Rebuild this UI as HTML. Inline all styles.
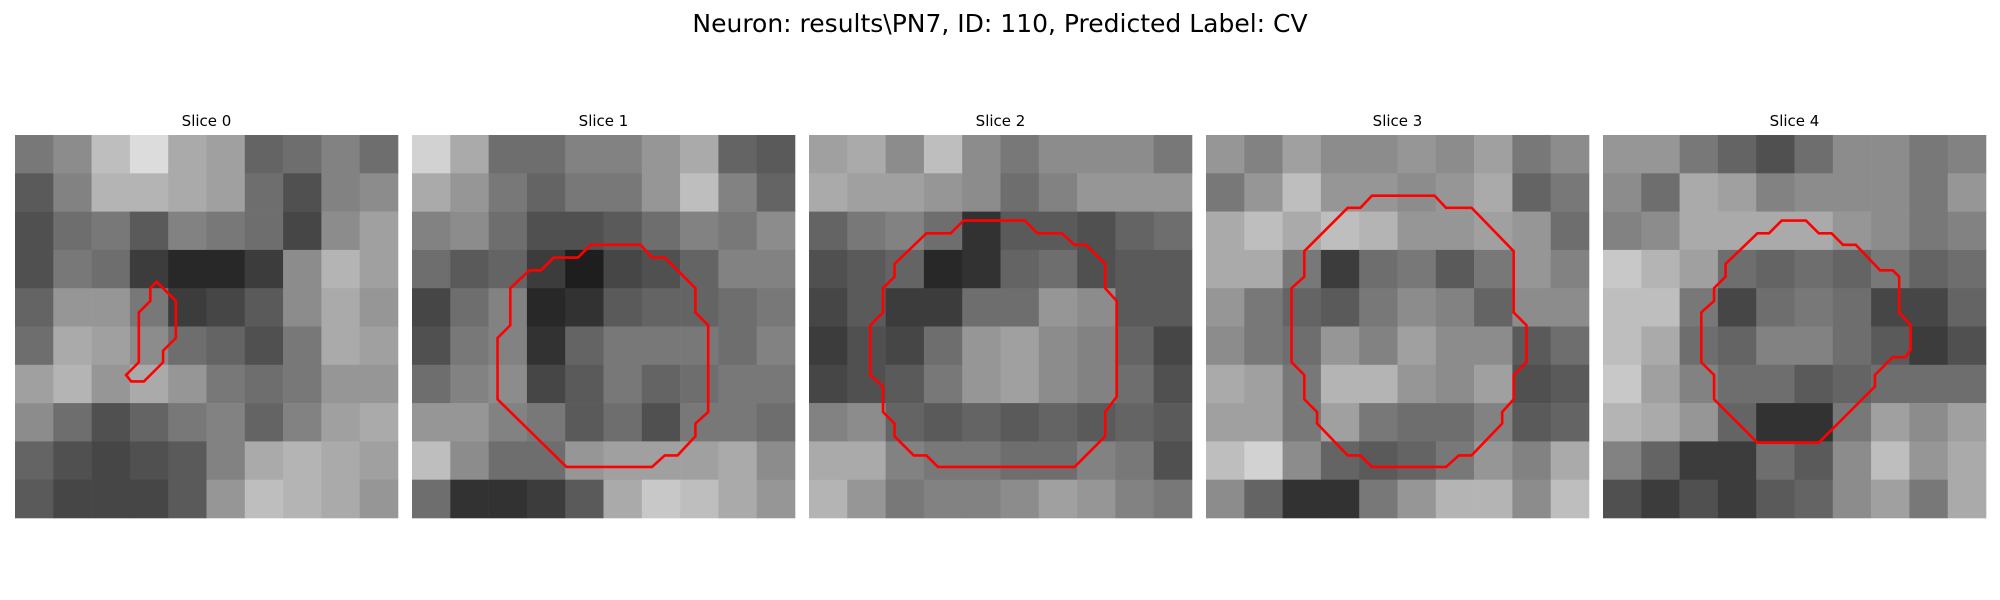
<!DOCTYPE html>
<html><head><meta charset="utf-8"><style>
html,body{margin:0;padding:0;background:#fff;}
svg{display:block;}
text{font-family:"DejaVu Sans","Liberation Sans",sans-serif;fill:#000;}
</style></head><body>
<svg id="fig" width="2000" height="600" viewBox="0 0 2000 600">
<text x="1000" y="32" font-size="25" text-anchor="middle">Neuron: results\PN7, ID: 110, Predicted Label: CV</text>
</svg>
<script>
const sliceTitles = ["Slice 0","Slice 1","Slice 2","Slice 3","Slice 4"];
const grid0 = [
[120,140,190,220,170,160,100,110,130,110],
[90,130,180,180,170,160,110,80,130,140],
[80,110,120,90,130,120,110,70,140,160],
[80,120,110,60,40,40,60,140,180,160],
[100,150,150,120,60,70,90,140,170,150],
[110,170,160,140,110,100,80,120,170,160],
[160,180,150,170,150,120,110,120,150,150],
[140,110,80,100,120,130,100,130,160,170],
[100,80,70,80,90,130,170,180,170,160],
[90,70,70,70,90,150,190,180,170,150]];
const grid1 = [
[210,170,110,110,130,130,150,170,100,90],
[170,150,120,100,120,120,150,190,130,100],
[130,140,110,80,80,90,110,130,120,140],
[110,90,100,60,30,70,80,100,130,130],
[70,110,130,40,50,90,100,100,110,120],
[80,120,130,50,100,120,120,120,110,130],
[110,130,140,70,90,120,100,110,120,120],
[150,150,130,120,90,110,80,120,120,110],
[190,140,110,110,150,160,160,160,170,140],
[110,50,50,60,90,170,200,190,170,150]];
const grid2 = [
[160,170,140,190,140,120,140,140,140,120],
[170,160,160,150,140,110,130,150,150,150],
[100,120,130,110,50,90,90,80,100,110],
[80,90,100,40,50,100,110,80,90,90],
[70,90,60,60,110,110,150,140,90,90],
[60,80,70,110,150,160,140,130,100,70],
[70,80,90,120,150,160,140,130,110,80],
[130,140,100,90,100,90,100,90,100,90],
[170,170,130,120,120,110,110,130,120,80],
[180,150,120,130,130,140,160,150,130,120]];
const grid3 = [
[150,130,160,140,140,150,140,160,120,140],
[120,150,190,150,150,140,150,170,100,120],
[170,190,170,190,180,150,150,160,150,110],
[170,170,120,60,110,120,90,120,150,130],
[150,120,100,90,120,140,130,100,140,140],
[140,120,110,150,130,160,140,140,90,110],
[170,160,120,180,180,150,140,160,80,90],
[160,160,120,160,120,110,110,130,90,100],
[190,210,140,100,90,100,120,150,130,170],
[140,100,50,50,120,150,180,180,140,190]];
const grid4 = [
[150,150,120,100,80,110,140,140,120,130],
[140,110,170,160,130,140,140,140,120,150],
[130,140,170,170,170,170,150,140,120,130],
[200,180,160,110,100,110,100,120,100,110],
[190,190,120,70,110,120,110,70,70,100],
[190,170,110,100,130,130,110,90,60,80],
[200,160,130,110,110,90,100,110,110,110],
[180,170,150,100,50,50,120,160,140,160],
[130,100,60,60,110,90,140,190,150,170],
[80,60,80,60,90,100,140,160,120,170]];
const contour0 = [[11.1,11.5],[12.6,13],[12.6,15.9],[11.6,16.9],[11.6,17.8],[10.1,19.3],[9.1,19.3],[8.7,18.8],[9.7,17.8],[9.7,13.9],[10.6,13],[10.6,12]];
const contour1 = [[14,8.6],[17.9,8.6],[18.8,9.6],[19.8,9.6],[22.2,12],[22.2,13.9],[23.2,14.9],[23.2,21.7],[22.2,22.6],[22.2,23.6],[20.8,25.1],[19.8,25.1],[18.8,26],[12.1,26],[6.7,20.7],[6.7,15.9],[7.7,14.9],[7.7,12],[9.2,10.6],[10.1,10.6],[11.1,9.6],[13,9.6]];
const contour2 = [[12.1,6.7],[16.9,6.7],[17.9,7.7],[19.8,7.7],[20.8,8.6],[21.7,8.6],[23.2,10.1],[23.2,12],[24.1,13],[24.1,20.5],[23.2,21.7],[23.2,23.6],[20.8,26],[10.1,26],[9.2,25.1],[8.2,25.1],[6.7,23.6],[6.7,22.6],[5.8,21.7],[5.8,19.7],[4.8,18.8],[4.8,14.9],[5.8,13.9],[5.8,12],[6.7,11.1],[6.7,10.1],[9.2,7.7],[11.1,7.7]];
const contour3 = [[13,4.75],[17.9,4.75],[18.8,5.7],[20.8,5.7],[24.1,9.1],[24.1,13.9],[25.1,14.9],[25.1,17.8],[24.1,18.8],[24.1,20.7],[23.2,21.7],[23.2,22.6],[20.8,25.1],[19.8,25.1],[18.8,26],[13,26],[12.1,25.1],[11.1,25.1],[8.7,22.6],[8.7,21.7],[7.7,20.7],[7.7,18.8],[6.7,17.8],[6.7,12],[7.7,11.1],[7.7,9.1],[11.1,5.7],[12.1,5.7]];
const contour4 = [[14,6.7],[15.9,6.7],[16.9,7.7],[17.9,7.7],[18.8,8.6],[19.8,8.6],[21.7,10.6],[22.7,10.6],[23.2,11.1],[23.2,13.9],[24.1,14.9],[24.1,16.8],[23.7,17.4],[22.7,17.4],[21.3,18.8],[21.3,19.7],[16.9,24.1],[12.1,24.1],[8.7,20.7],[8.7,18.8],[7.7,17.8],[7.7,13.9],[8.7,13],[8.7,12],[9.6,11.1],[9.6,10.1],[12.1,7.7],[13,7.7]];

const grids=[grid0,grid1,grid2,grid3,grid4];
const contours=[contour0,contour1,contour2,contour3,contour4];
const NS='http://www.w3.org/2000/svg';
const svg=document.getElementById('fig');
const panelX0=15, panelPitch=397, panelY0=135, panelSize=383, cells=30;
function px(i,c){return panelX0+i*panelPitch+c*panelSize/cells;}
function py(c){return panelY0+c*panelSize/cells;}
for(let i=0;i<5;i++){
  const g=document.createElementNS(NS,'g');
  
  
  svg.appendChild(g);
  const t=document.createElementNS(NS,'text');
  
  
  t.setAttribute('x',px(i,15));t.setAttribute('y',126);
  t.setAttribute('font-size','15');t.setAttribute('text-anchor','middle');
  t.textContent=sliceTitles[i];g.appendChild(t);
  const grid=grids[i], n=grid.length, bs=cells/n;
  for(let r=0;r<n;r++)for(let c=0;c<grid[r].length;c++){
    const v=grid[r][c];
    const rc=document.createElementNS(NS,'rect');
    
    
    const x1=px(i,c*bs), x2=px(i,(c+1)*bs), y1=py(r*bs), y2=py((r+1)*bs);
    rc.setAttribute('x',x1);rc.setAttribute('y',y1);
    rc.setAttribute('width',x2-x1+0.3);rc.setAttribute('height',y2-y1+0.3);
    rc.setAttribute('fill','rgb('+v+','+v+','+v+')');
    g.appendChild(rc);
  }
  const pl=document.createElementNS(NS,'polygon');
  
  
  pl.setAttribute('points',contours[i].map(p=>px(i,p[0])+','+py(p[1])).join(' '));
  pl.setAttribute('fill','none');pl.setAttribute('stroke','#ff0000');
  pl.setAttribute('stroke-width','2.6');pl.setAttribute('stroke-linejoin','miter');
  g.appendChild(pl);
}
</script>
</body></html>
